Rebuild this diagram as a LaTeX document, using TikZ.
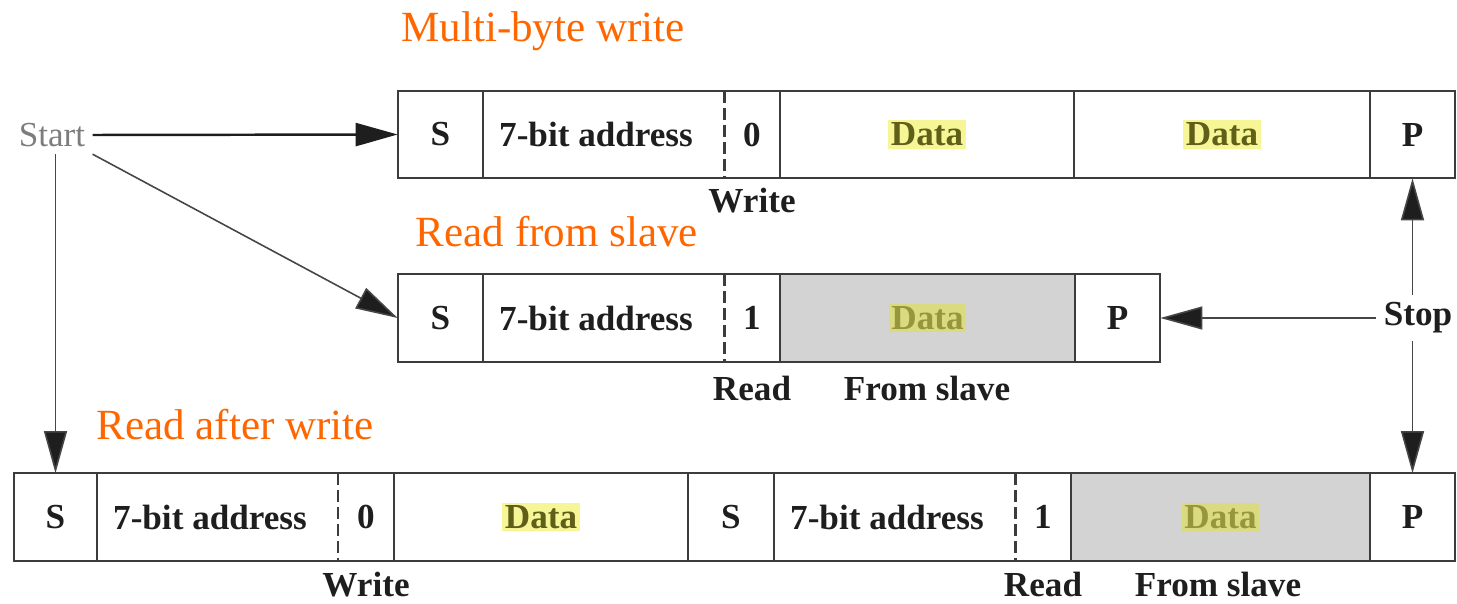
\documentclass[tikz,border=0pt]{standalone}
\usepackage{fontspec}
\setmainfont{Liberation Serif}
\usetikzlibrary{arrows.meta}
\definecolor{orangetitle}{RGB}{255,102,0}
\definecolor{framegray}{RGB}{60,60,60}
\definecolor{slavefill}{RGB}{211,211,211}
\definecolor{hlwhite}{RGB}{246,246,150}
\definecolor{hlgray}{RGB}{218,218,128}
\definecolor{datatext}{RGB}{95,95,25}
\definecolor{datatextgray}{RGB}{150,150,60}
\definecolor{cellink}{RGB}{30,30,30}
\definecolor{startink}{RGB}{125,125,125}
\definecolor{arrowink}{RGB}{70,70,70}

% one field of a frame: name, left x, right x, centre y, text, style
\newcommand{\field}[6]{%
  \node[#6, minimum width={(#3-#2)*0.02cm}] (#1) at ({(#2+#3)/2},#4) {#5};}

\begin{document}
\begin{tikzpicture}[x=0.02cm,y=-0.02cm,
  cellfont/.style={font=\fontsize{20}{24}\selectfont\bfseries},
  cellbox/.style={cellfont, text=cellink, inner sep=0pt, minimum height=1.74cm},
  slavebox/.style={cellbox, fill=slavefill},
  frame/.style={draw=framegray, line width=1.1pt},
  bitline/.style={draw=framegray, line width=1.3pt, dash pattern=on 0.24cm off 0.1cm},
  datatag/.style={cellfont, fill=hlwhite, text=datatext, inner sep=1.5pt},
  slavetag/.style={cellfont, fill=hlgray, text=datatextgray, inner sep=1.5pt},
  title/.style={font=\fontsize{24.5}{28}\selectfont, text=orangetitle, anchor=base, inner sep=0pt},
  note/.style={cellfont, text=cellink, anchor=base, inner sep=0pt},
  flow/.style={draw=arrowink, line width=0.9pt, -{Triangle[length=0.84cm,width=0.46cm,fill=cellink]}},
]
\useasboundingbox (0,0) rectangle (1457,604);

% ---- titles
\node[title] (t1) at (543,42) {Multi-byte write};
\node[title] (t2) at (557,247) {Read from slave};
\node[title] (t3) at (235,439) {Read after write};

% ---- multi-byte write frame
\field{S1}{398}{483}{134.5}{S}{cellbox}
\field{A1}{483}{724}{134.5}{}{cellbox}
\field{B1}{724}{780}{134.5}{0}{cellbox}
\field{D1a}{780}{1074}{134.5}{}{cellbox}
\field{D1b}{1074}{1370}{134.5}{}{cellbox}
\field{P1}{1370}{1455}{134.5}{P}{cellbox}
\node[cellfont, text=cellink] (a1) at (596,134.5) {7-bit address};
\node[datatag] (d1a) at (D1a) {Data};
\node[datatag] (d1b) at (D1b) {Data};
\draw[frame] (S1.north west) rectangle (P1.south east);
\foreach \c in {S1,B1,D1a,D1b} \draw[frame] (\c.north east) -- (\c.south east);
\draw[bitline] (A1.north east) -- (A1.south east);
\node[note] (w1) at (752,213) {Write};

% ---- read from slave frame
\field{S2}{398}{483}{318}{S}{cellbox}
\field{A2}{483}{724}{318}{}{cellbox}
\field{B2}{724}{780}{318}{1}{cellbox}
\field{D2}{780}{1075}{318}{}{slavebox}
\field{P2}{1075}{1160}{318}{P}{cellbox}
\node[cellfont, text=cellink] (a2) at (596,318) {7-bit address};
\node[slavetag] (d2) at (D2) {Data};
\draw[frame] (S2.north west) rectangle (P2.south east);
\foreach \c in {S2,B2,D2} \draw[frame] (\c.north east) -- (\c.south east);
\draw[bitline] (A2.north east) -- (A2.south east);
\node[note] (r2) at (752,400) {Read};
\node[note] (f2) at (927,400) {From slave};

% ---- read after write frame
\field{S3}{14}{97}{517}{S}{cellbox}
\field{A3}{97}{338}{517}{}{cellbox}
\field{B3}{338}{394}{517}{0}{cellbox}
\field{D3}{394}{688}{517}{}{cellbox}
\field{S3b}{688}{774}{517}{S}{cellbox}
\field{A3b}{774}{1015}{517}{}{cellbox}
\field{B3b}{1015}{1071}{517}{1}{cellbox}
\field{D3b}{1071}{1370}{517}{}{slavebox}
\field{P3}{1370}{1455}{517}{P}{cellbox}
\node[cellfont, text=cellink] (a3) at (210,517) {7-bit address};
\node[cellfont, text=cellink] (a3b) at (887,517) {7-bit address};
\node[datatag] (d3) at (D3) {Data};
\node[slavetag] (d3b) at (D3b) {Data};
\draw[frame] (S3.north west) rectangle (P3.south east);
\foreach \c in {S3,B3,D3,S3b,B3b,D3b} \draw[frame] (\c.north east) -- (\c.south east);
\draw[bitline] (A3.north east) -- (A3.south east);
\draw[bitline] (A3b.north east) -- (A3b.south east);
\node[note] (w3) at (366,596) {Write};
\node[note] (r3) at (1043,596) {Read};
\node[note] (f3) at (1218,596) {From slave};

% ---- start and stop conditions
\node[font=\fontsize{20}{24}\selectfont, text=startink, inner sep=4pt] (start) at (52,135) {Start};
\node[cellfont, text=cellink, inner sep=4pt] (stop) at (1418,318) {Stop};

\draw[flow, line width=1.4pt, draw=cellink] (start.east) -- (S1.west);
\draw[flow] (start.south east) -- (S2.west);
\draw[flow] (S3.north |- start.south) -- (S3.north);
\draw[flow] (stop.west) -- (P2.east);
\draw[flow] (P1.south |- stop.north) -- (P1.south);
\draw[flow] (P3.north |- stop.south) -- (P3.north);
\end{tikzpicture}
\end{document}
